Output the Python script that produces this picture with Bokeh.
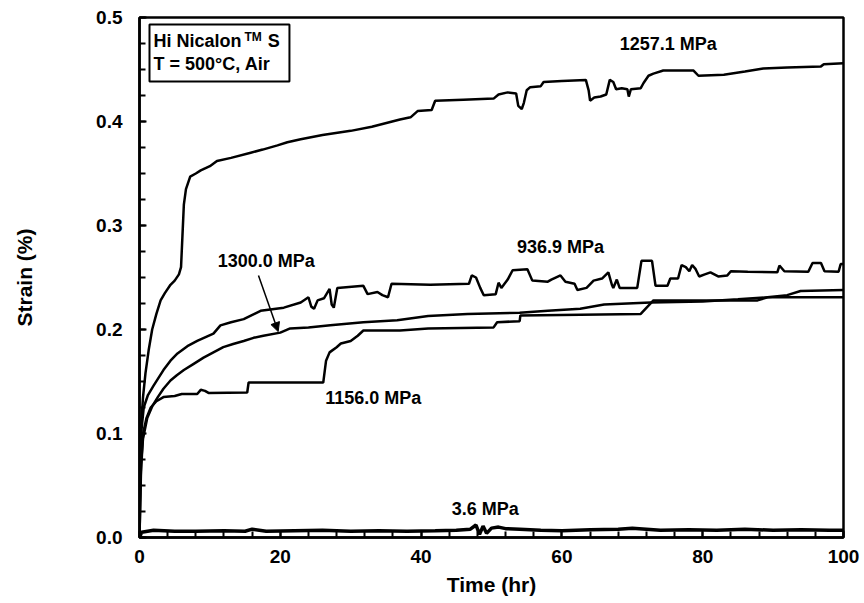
from bokeh.plotting import figure
from bokeh.models import (Range1d, FixedTicker, NumeralTickFormatter, Arrow, NormalHead,
                          BoxAnnotation)
from bokeh.core.properties import value
from bokeh.embed import file_html
from bokeh.resources import INLINE

# ---- data ----
t_1257 = [0, 0.1, 0.3, 0.5, 0.85, 1.3, 1.8, 2.4, 3.0, 3.6, 4.4, 5.0, 5.6, 5.9, 6.1, 6.3, 6.6, 7.2, 8.0, 8.7,
          10, 11, 13, 15.8, 17.5, 19.6, 21, 22.9, 26, 30, 33, 37, 38.5, 39.5, 41.5, 42, 46, 50.3, 51, 52.3,
          53.5, 53.8, 54.3, 54.6, 55.0, 55.5, 57, 57.4, 60, 63.4, 63.8, 64, 64.6, 65.5, 66.3, 66.8, 67.3,
          67.7, 68.5, 69.3, 69.5, 69.8, 71.2, 71.6, 72.3, 73, 74.4, 78.7, 79.4, 83, 86, 88.6, 92, 96.8,
          97.2, 100]
s_1257 = [0.0, 0.09, 0.115, 0.135, 0.158, 0.18, 0.2, 0.215, 0.228, 0.235, 0.243, 0.247, 0.253, 0.26, 0.29,
          0.32, 0.335, 0.347, 0.35, 0.353, 0.357, 0.362, 0.365, 0.37, 0.373, 0.377, 0.38, 0.383, 0.387,
          0.391, 0.395, 0.402, 0.404, 0.41, 0.411, 0.42, 0.421, 0.422, 0.426, 0.428, 0.427, 0.415, 0.412,
          0.418, 0.43, 0.433, 0.434, 0.438, 0.439, 0.44, 0.43, 0.42, 0.423, 0.424, 0.426, 0.44, 0.438,
          0.431, 0.432, 0.431, 0.424, 0.431, 0.432, 0.437, 0.444, 0.446, 0.449, 0.449, 0.444, 0.445,
          0.448, 0.451, 0.452, 0.453, 0.455, 0.456]

t_937 = [0, 0.1, 0.3, 0.6, 1.2, 2.0, 3.4, 4.4, 5.4, 6.8, 8.2, 10.5, 11.5, 13, 14.8, 17.2, 20.5, 22.9, 24.0,
         24.4, 24.8, 25.3, 26.2, 27.0, 27.3, 27.6, 28.1, 31.8, 32.4, 33.8, 34.5, 35.3, 35.8, 41.3, 46.8,
         47.2, 47.8, 48.4, 48.9, 50.6, 51.0, 51.4, 52.3, 53.0, 55.1, 55.8, 58, 58.5, 59.8, 60.5, 61.8,
         62.2, 63.5, 64.5, 65.7, 66.6, 67.1, 67.3, 67.8, 68.2, 70.7, 71.3, 72.8, 73.3, 75, 75.4, 76.5,
         77.0, 77.6, 78.1, 78.5, 79.0, 79.5, 80.3, 81.1, 82.2, 83.5, 84, 86.4, 90.6, 90.9, 91.6, 95,
         95.6, 96.8, 97.3, 99.3, 99.6, 100]
s_937 = [0.0, 0.08, 0.105, 0.125, 0.137, 0.146, 0.161, 0.17, 0.177, 0.184, 0.189, 0.196, 0.204, 0.207, 0.21,
         0.218, 0.221, 0.226, 0.231, 0.222, 0.22, 0.228, 0.23, 0.239, 0.224, 0.221, 0.24, 0.242, 0.234,
         0.236, 0.233, 0.231, 0.244, 0.243, 0.244, 0.252, 0.25, 0.24, 0.233, 0.234, 0.245, 0.24, 0.248,
         0.257, 0.258, 0.247, 0.246, 0.248, 0.252, 0.246, 0.244, 0.238, 0.24, 0.247, 0.249, 0.255, 0.243,
         0.24, 0.248, 0.24, 0.24, 0.266, 0.266, 0.242, 0.242, 0.249, 0.249, 0.262, 0.26, 0.256, 0.262,
         0.258, 0.251, 0.253, 0.255, 0.251, 0.252, 0.256, 0.2555, 0.255, 0.2615, 0.256, 0.2555, 0.264,
         0.264, 0.256, 0.2555, 0.263, 0.263]

t_1300 = [0, 0.2, 0.5, 1.1, 1.8, 2.6, 3.4, 4.4, 5.3, 6.3, 7.7, 9.1, 10.5, 11.9, 13.3, 14.8, 16.2, 17.6, 20,
          21.4, 24, 27.1, 31.8, 36.6, 41, 46.6, 54, 58, 62.6, 66, 72.6, 80, 85, 89.2, 92, 93.9, 100]
s_1300 = [0.0, 0.07, 0.095, 0.115, 0.126, 0.135, 0.143, 0.151, 0.156, 0.161, 0.167, 0.173, 0.178, 0.183,
          0.186, 0.189, 0.192, 0.194, 0.197, 0.201, 0.202, 0.204, 0.207, 0.209, 0.213, 0.215, 0.216, 0.218,
          0.22, 0.224, 0.226, 0.227, 0.229, 0.231, 0.233, 0.237, 0.238]

t_1156 = [0, 0.2, 0.5, 1.0, 1.6, 2.4, 3.4, 5.0, 6.0, 8.2, 8.7, 9.3, 9.8, 15.3, 15.5, 26.1, 26.5, 27.0, 28.0,
          28.6, 30, 31, 31.8, 37, 41, 50.3, 50.8, 54.0, 54.1, 71.2, 73, 87.8, 89.2, 100]
s_1156 = [0.0, 0.06, 0.1, 0.115, 0.125, 0.131, 0.135, 0.136, 0.138, 0.138, 0.142, 0.141, 0.139, 0.1394,
          0.149, 0.149, 0.17, 0.178, 0.183, 0.1865, 0.189, 0.194, 0.199, 0.199, 0.201, 0.202, 0.207, 0.208,
          0.2135, 0.215, 0.228, 0.228, 0.231, 0.231]

t_3_6 = [0, 0.3, 2, 5, 8, 12, 15, 16, 18, 22, 26, 30, 34, 38, 42, 45, 47, 47.8, 48.3, 48.8, 49.3, 50, 51,
         52, 54, 57, 60, 64, 68, 70, 74, 78, 82, 86, 90, 94, 98, 100]
s_3_6 = [0.0, 0.005, 0.007, 0.006, 0.006, 0.0065, 0.006, 0.008, 0.006, 0.0065, 0.007, 0.006, 0.0065, 0.006,
         0.0065, 0.007, 0.008, 0.012, 0.003, 0.011, 0.004, 0.009, 0.010, 0.0085, 0.008, 0.007, 0.0065,
         0.0075, 0.008, 0.009, 0.007, 0.0075, 0.007, 0.008, 0.007, 0.0075, 0.007, 0.007]

x_ticks = [0, 20, 40, 60, 80, 100]
y_ticks = [0.0, 0.1, 0.2, 0.3, 0.4, 0.5]
x_minor = [i * 4 for i in range(26)]
y_minor = [i * 0.025 for i in range(21)]

series_labels = ["1257.1 MPa", "936.9 MPa", "1300.0 MPa", "1156.0 MPa", "3.6 MPa"]

FONT = "Liberation Sans"

p = figure(width=864, height=603, x_range=Range1d(0, 100), y_range=Range1d(0, 0.5),
           output_backend="svg", toolbar_location=None,
           min_border_left=139, min_border_right=21, min_border_top=17, min_border_bottom=66)
p.grid.visible = False
p.outline_line_color = "black"
p.outline_line_width = 2.5
p.background_fill_color = "white"
p.border_fill_color = "white"

for ax in (p.xaxis[0], p.yaxis[0]):
    ax.axis_line_color = "black"
    ax.axis_line_width = 2.5
    ax.major_tick_in = 7
    ax.major_tick_out = 0
    ax.minor_tick_in = 6
    ax.minor_tick_out = 0
    ax.major_tick_line_width = 2
    ax.minor_tick_line_width = 2
    ax.major_tick_line_color = "black"
    ax.minor_tick_line_color = "black"
    ax.major_label_text_font = FONT
    ax.major_label_text_font_style = "bold"
    ax.major_label_text_font_size = "19px"
    ax.major_label_text_color = "black"
    ax.axis_label_text_font = FONT
    ax.axis_label_text_font_style = "bold"
    ax.axis_label_text_font_size = "21px"
    ax.axis_label_text_color = "black"

p.xaxis.ticker = FixedTicker(ticks=x_ticks, minor_ticks=x_minor)
p.yaxis.ticker = FixedTicker(ticks=y_ticks, minor_ticks=y_minor)
p.yaxis.formatter = NumeralTickFormatter(format="0.0")
p.xaxis.axis_label = "Time (hr)"
p.yaxis.axis_label = "Strain (%)"
p.xaxis.major_label_standoff = 12
p.xaxis.axis_label_standoff = 7
p.yaxis.major_label_standoff = 17
p.yaxis.axis_label_standoff = 57

lw = 2.5
p.line(t_1257, s_1257, line_color="black", line_width=lw)
p.line(t_937, s_937, line_color="black", line_width=lw)
p.line(t_1300, s_1300, line_color="black", line_width=lw)
p.line(t_1156, s_1156, line_color="black", line_width=lw)
p.line(t_3_6, s_3_6, line_color="black", line_width=3.5)

# series labels
lab_x = [75.1, 59.8, 18.0, 33.2, 49.1]
lab_y = [0.4745, 0.279, 0.266, 0.1337, 0.0274]
p.text(x=lab_x, y=lab_y, text=series_labels, text_font=value(FONT), text_font_style="bold",
       text_font_size="18px", text_align="center", text_baseline="middle", text_color="black")

p.add_layout(Arrow(end=NormalHead(size=9, fill_color="black", line_color="black", line_width=1),
                   x_start=16.9, y_start=0.252, x_end=19.7, y_end=0.198,
                   line_color="black", line_width=1.5))

# info box
p.add_layout(BoxAnnotation(left=1.42, right=21.3, bottom=0.4385, top=0.4933, level="underlay",
                           fill_color=None, line_color="black", line_alpha=1.0, line_width=2))
p.text(x=[2.0], y=[0.4774], text=["Hi Nicalon"], text_font=value(FONT), text_font_style="bold",
       text_font_size="18px", text_align="left", text_baseline="middle", text_color="black")
p.text(x=[14.9], y=[0.4813], text=["TM"], text_font=value(FONT), text_font_style="bold",
       text_font_size="12px", text_align="left", text_baseline="middle", text_color="black")
p.text(x=[18.2], y=[0.4774], text=["S"], text_font=value(FONT), text_font_style="bold",
       text_font_size="18px", text_align="left", text_baseline="middle", text_color="black")
p.text(x=[2.0], y=[0.4553], text=["T = 500°C, Air"], text_font=value(FONT), text_font_style="bold",
       text_font_size="18px", text_align="left", text_baseline="middle", text_color="black")

open("out.html", "w").write(file_html(p, INLINE))
